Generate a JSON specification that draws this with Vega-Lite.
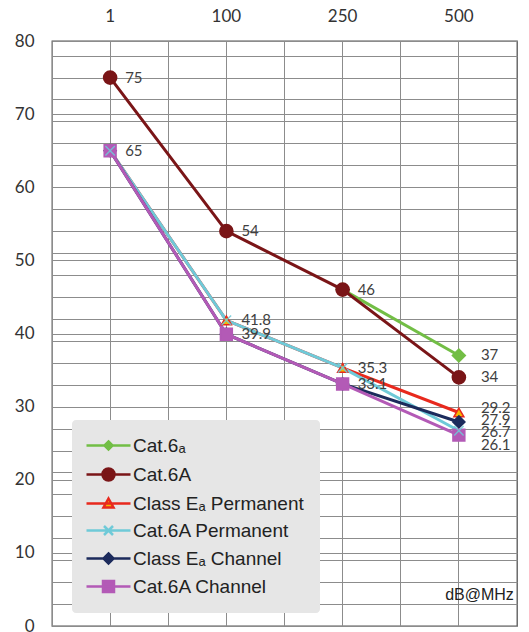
{
  "$schema": "https://vega.github.io/schema/vega-lite/v6.json",
  "width": 465,
  "height": 585,
  "autosize": "none",
  "padding": {"left": 52, "top": 41, "right": 12, "bottom": 6},
  "background": "white",
  "config": {
    "view": {"stroke": "#555555", "strokeWidth": 1.3},
    "font": "Lato"
  },
  "data": {
    "values": [
      {"freq": "250", "series": "Cat.6ₐ", "dB": 46},
      {"freq": "500", "series": "Cat.6ₐ", "dB": 37},
      {"freq": "1", "series": "Cat.6A", "dB": 75},
      {"freq": "100", "series": "Cat.6A", "dB": 54},
      {"freq": "250", "series": "Cat.6A", "dB": 46},
      {"freq": "500", "series": "Cat.6A", "dB": 34},
      {"freq": "1", "series": "Class Eₐ Permanent", "dB": 65},
      {"freq": "100", "series": "Class Eₐ Permanent", "dB": 41.8},
      {"freq": "250", "series": "Class Eₐ Permanent", "dB": 35.3},
      {"freq": "500", "series": "Class Eₐ Permanent", "dB": 29.2},
      {"freq": "1", "series": "Cat.6A Permanent", "dB": 65},
      {"freq": "100", "series": "Cat.6A Permanent", "dB": 41.8},
      {"freq": "250", "series": "Cat.6A Permanent", "dB": 35.3},
      {"freq": "500", "series": "Cat.6A Permanent", "dB": 26.7},
      {"freq": "1", "series": "Class Eₐ Channel", "dB": 65},
      {"freq": "100", "series": "Class Eₐ Channel", "dB": 39.9},
      {"freq": "250", "series": "Class Eₐ Channel", "dB": 33.1},
      {"freq": "500", "series": "Class Eₐ Channel", "dB": 27.9},
      {"freq": "1", "series": "Cat.6A Channel", "dB": 65},
      {"freq": "100", "series": "Cat.6A Channel", "dB": 39.9},
      {"freq": "250", "series": "Cat.6A Channel", "dB": 33.1},
      {"freq": "500", "series": "Cat.6A Channel", "dB": 26.1}
    ]
  },
  "layer": [
    {
      "mark": {"type": "point", "opacity": 0},
      "encoding": {
        "x": {
          "field": "freq", "type": "ordinal", "sort": ["1", "100", "250", "500"],
          "scale": {"type": "band", "paddingInner": 0, "paddingOuter": 0},
          "axis": {"orient": "bottom", "bandPosition": 0, "grid": true, "gridColor": "#8c8c8c", "gridWidth": 1, "labels": false, "ticks": false, "domain": false, "title": null}
        },
        "y": {
          "field": "dB", "type": "quantitative",
          "scale": {"domain": [0, 80], "nice": false},
          "axis": {"orient": "right", "values": [3, 6, 9, 12, 15, 18, 21, 24, 27, 30, 33, 36, 39, 42, 45, 48, 51, 54, 57, 60, 63, 66, 69, 72, 75, 78], "grid": true, "gridColor": "#8c8c8c", "gridWidth": 1, "labels": false, "ticks": false, "domain": false, "title": null}
        }
      }
    },
    {
      "encoding": {
        "x": {
          "field": "freq", "type": "ordinal", "sort": ["1", "100", "250", "500"],
          "scale": {"type": "band", "paddingInner": 0, "paddingOuter": 0},
          "axis": {"orient": "top", "grid": true, "gridColor": "#8c8c8c", "gridWidth": 1, "ticks": false, "domain": false, "title": null, "labelAngle": 0, "labelFont": "Lato", "labelFontSize": 17, "labelColor": "#333333", "labelPadding": 16}
        },
        "y": {
          "field": "dB", "type": "quantitative",
          "scale": {"domain": [0, 80], "nice": false},
          "axis": {"orient": "left", "values": [0, 10, 20, 30, 40, 50, 60, 70, 80], "grid": true, "gridColor": "#8c8c8c", "gridWidth": 1, "ticks": false, "domain": false, "title": null, "labelFont": "Lato", "labelFontSize": 17, "labelColor": "#333333", "labelPadding": 18}
        }
      },
      "layer": [
        {
          "mark": {"type": "line", "strokeWidth": 3},
          "encoding": {
            "color": {
              "field": "series", "type": "nominal",
              "scale": {
                "domain": ["Cat.6ₐ", "Cat.6A", "Class Eₐ Permanent", "Cat.6A Permanent", "Class Eₐ Channel", "Cat.6A Channel"],
                "range": ["#72be45", "#7a1517", "#e8291d", "#6fcad8", "#1c2b5c", "#b35ab6"]
              },
              "legend": {
                "orient": "none", "legendX": 20, "legendY": 379, "title": null,
                "fillColor": "#e6e6e6", "cornerRadius": 4, "padding": 16,
                "symbolOffset": 11, "symbolSize": 100, "symbolStrokeWidth": 2.5,
                "labelFont": "Liberation Sans", "labelFontSize": 19, "labelColor": "#222222",
                "labelOffset": 15, "rowPadding": 7, "labelLimit": 300,
                "encode": {
                  "symbols": {
                    "update": {
                      "shape": {"signal": "{'Cat.6ₐ': 'M-4.4,0H4.4M0,-0.8L0.8,0L0,0.8L-0.8,0Z', 'Cat.6A': 'M-4.4,0H4.4M-1.2,0A1.2,1.2 0 1,0 1.2,0A1.2,1.2 0 1,0 -1.2,0Z', 'Class Eₐ Permanent': 'M-4.4,0H4.4M0,-1L1,0.8H-1Z', 'Cat.6A Permanent': 'M-4.4,0H4.4M-0.9,-0.9L0.9,0.9M-0.9,0.9L0.9,-0.9', 'Class Eₐ Channel': 'M-4.4,0H4.4M0,-1L1,0L0,1L-1,0Z', 'Cat.6A Channel': 'M-4.4,0H4.4M-1.1,-1.1H1.1V1.1H-1.1Z'}[datum.value]"},
                      "fill": {"signal": "datum.value === 'Class Eₐ Permanent' ? '#f5b700' : scale('color', datum.value)"},
                      "stroke": {"signal": "scale('color', datum.value)"},
                      "fillOpacity": {"value": 1},
                      "opacity": {"value": 1},
                      "strokeWidth": {"value": 2.5}
                    }
                  }
                }
              }
            }
          }
        },
        {
          "transform": [{"filter": "datum.series === 'Cat.6ₐ'"}],
          "mark": {"type": "point", "shape": "diamond", "filled": true, "fill": "#72be45", "stroke": "#72be45", "size": 150, "opacity": 1}
        },
        {
          "transform": [{"filter": "datum.series === 'Cat.6A'"}],
          "mark": {"type": "point", "shape": "circle", "filled": true, "fill": "#7a1517", "stroke": "#7a1517", "size": 160, "opacity": 1}
        },
        {
          "transform": [{"filter": "datum.series === 'Class Eₐ Permanent'"}],
          "mark": {"type": "point", "shape": "triangle-up", "filled": true, "fill": "#f5b700", "stroke": "#e8291d", "strokeWidth": 1.5, "size": 100, "opacity": 1}
        },
        {
          "transform": [{"filter": "datum.series === 'Class Eₐ Channel'"}],
          "mark": {"type": "point", "shape": "diamond", "filled": true, "fill": "#1c2b5c", "stroke": "#1c2b5c", "size": 130, "opacity": 1}
        },
        {
          "transform": [{"filter": "datum.series === 'Cat.6A Channel'"}],
          "mark": {"type": "point", "shape": "square", "filled": true, "fill": "#b35ab6", "stroke": "#b35ab6", "size": 130, "opacity": 1}
        },
        {
          "transform": [{"filter": "datum.series === 'Cat.6A Permanent'"}],
          "mark": {"type": "point", "shape": "M-1,-1L1,1M-1,1L1,-1", "filled": false, "stroke": "#6fcad8", "strokeWidth": 1.5, "size": 90, "opacity": 0.85}
        },
        {
          "transform": [
            {"aggregate": [{"op": "count", "as": "n"}], "groupby": ["freq", "dB"]},
            {"filter": "datum.freq !== '500'"}
          ],
          "mark": {"type": "text", "align": "left", "baseline": "middle", "dx": 15, "fontSize": 15, "font": "Lato", "color": "#404040"},
          "encoding": {"text": {"field": "dB", "type": "quantitative"}}
        },
        {
          "transform": [
            {"aggregate": [{"op": "count", "as": "n"}], "groupby": ["freq", "dB"]},
            {"filter": "datum.freq === '500' && (datum.dB === 37 || datum.dB === 34)"}
          ],
          "mark": {"type": "text", "align": "left", "baseline": "middle", "dx": 22, "fontSize": 15, "font": "Lato", "color": "#404040"},
          "encoding": {"text": {"field": "dB", "type": "quantitative"}}
        },
        {
          "transform": [
            {"aggregate": [{"op": "count", "as": "n"}], "groupby": ["freq", "dB"]},
            {"filter": "datum.freq === '500' && datum.dB === 29.2"}
          ],
          "mark": {"type": "text", "align": "left", "baseline": "middle", "dx": 22, "dy": -4, "fontSize": 15, "font": "Lato", "color": "#404040"},
          "encoding": {"text": {"field": "dB", "type": "quantitative"}}
        },
        {
          "transform": [
            {"aggregate": [{"op": "count", "as": "n"}], "groupby": ["freq", "dB"]},
            {"filter": "datum.freq === '500' && datum.dB === 27.9"}
          ],
          "mark": {"type": "text", "align": "left", "baseline": "middle", "dx": 22, "dy": -2, "fontSize": 15, "font": "Lato", "color": "#404040"},
          "encoding": {"text": {"field": "dB", "type": "quantitative"}}
        },
        {
          "transform": [
            {"aggregate": [{"op": "count", "as": "n"}], "groupby": ["freq", "dB"]},
            {"filter": "datum.freq === '500' && datum.dB === 26.7"}
          ],
          "mark": {"type": "text", "align": "left", "baseline": "middle", "dx": 22, "dy": 1, "fontSize": 15, "font": "Lato", "color": "#404040"},
          "encoding": {"text": {"field": "dB", "type": "quantitative"}}
        },
        {
          "transform": [
            {"aggregate": [{"op": "count", "as": "n"}], "groupby": ["freq", "dB"]},
            {"filter": "datum.freq === '500' && datum.dB === 26.1"}
          ],
          "mark": {"type": "text", "align": "left", "baseline": "middle", "dx": 22, "dy": 10, "fontSize": 15, "font": "Lato", "color": "#404040"},
          "encoding": {"text": {"field": "dB", "type": "quantitative"}}
        },
        {
          "transform": [{"filter": "datum.series === 'Cat.6A Channel' && datum.freq === '500'"}],
          "mark": {"type": "text", "text": "dB@MHz", "align": "right", "baseline": "middle", "dx": 55, "font": "Liberation Sans", "fontWeight": "normal", "fontSize": 16, "color": "#222222"},
          "encoding": {
            "x": {"datum": "500"},
            "y": {"datum": 4.2}
          }
        }
      ]
    }
  ],
  "resolve": {"axis": {"x": "independent", "y": "independent"}}
}
